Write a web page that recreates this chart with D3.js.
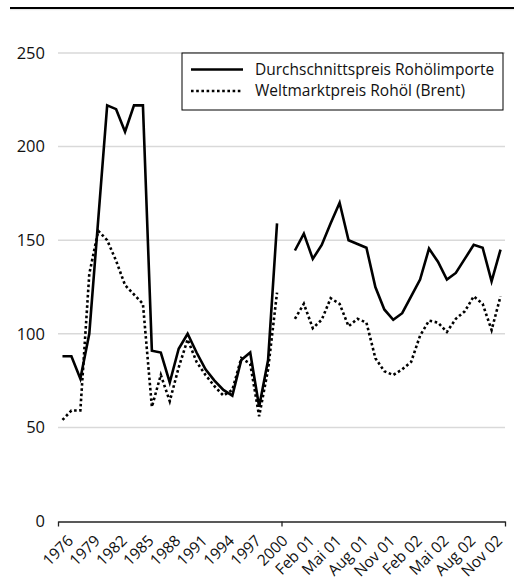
<html>
  <head>
    <script src="https://d3js.org/d3.v7.min.js"></script>
    <style>
      body { margin: 0; background: #fff; }
      text { font-family: "Open Sans", "Noto Sans", sans-serif; fill: #111; }
    </style>
  </head>

  <body>
    <script type="text/javascript">
      // categories: yearly 1976-2000, one empty slot, then monthly Jan 01 - Dec 02
      var years = ["1976","1977","1978","1979","1980","1981","1982","1983","1984","1985",
                   "1986","1987","1988","1989","1990","1991","1992","1993","1994","1995",
                   "1996","1997","1998","1999","2000"];
      var gap = [" "];
      var months = ["Jan 01","Feb 01","Mrz 01","Apr 01","Mai 01","Jun 01","Jul 01","Aug 01",
                    "Sep 01","Okt 01","Nov 01","Dez 01","Jan 02","Feb 02","Mrz 02","Apr 02",
                    "Mai 02","Jun 02","Jul 02","Aug 02","Sep 02","Okt 02","Nov 02","Dez 02"];
      var cats = years.concat(gap, months);

      // Durchschnittspreis Rohölimporte
      var importYears = [88,88,76,100,161,222,220,208,222,222,91,90,74,92,100,90,81,75,70,67,86,90,61,86,159];
      var importMonths = [144.5,153.5,140,147.5,159,170,150,148,146,125,113,107.5,111,120,129,145.5,138.5,129,132.5,140,147.5,146,128,145];
      // Weltmarktpreis Rohöl (Brent)
      var brentYears = [54,59,59,132,155,150,139,126,121,116,61,78,64,82,97,85,78,72,67,70,87,84,56,81,122];
      var brentMonths = [108,116,103,107.5,119,116,104,108,106,87,80,78,81,85,99,107,106,101,108,112,120,116,102,120];

      var yTicks = [0,50,100,150,200,250];
      var labelCats = cats.filter((d,i) => i % 3 == 0);
      var legendNames = ["Durchschnittspreis Rohölimporte","Weltmarktpreis Rohöl (Brent)"];

      var w = 514, h = 588;
      var mLeft = 58, mRight = 505, mTop = 53, mBottom = 521;

      var x = d3.scaleBand().domain(cats).range([mLeft,mRight]).padding(0);
      var xEdge = d3.scaleLinear().domain([0,cats.length]).range([mLeft,mRight]);
      var y = d3.scaleLinear().domain([0,250]).range([mBottom,mTop]);

      var svg = d3.select("body").append("svg")
        .attr("width",w)
        .attr("height",h);

      // top rule
      svg.append("line").attr("x1",10).attr("x2",514).attr("y1",8).attr("y2",8)
        .attr("stroke","#000").attr("stroke-width",2);
      svg.append("line").attr("x1",10).attr("x2",514).attr("y1",9.7).attr("y2",9.7)
        .attr("stroke","#e2e2e2").attr("stroke-width",1);

      // gridlines
      svg.append("g").selectAll("line").data(yTicks.filter(d => d > 0)).enter().append("line")
        .attr("x1",mLeft).attr("x2",mRight)
        .attr("y1",d => y(d)).attr("y2",d => y(d))
        .attr("stroke","#d9d9d9").attr("stroke-width",1.5);

      // y axis labels
      var yAxis = d3.axisLeft(y).tickValues(yTicks).tickSize(0).tickPadding(13);
      var gy = svg.append("g").attr("transform","translate(" + mLeft + ",0)").call(yAxis);
      gy.select(".domain").remove();
      gy.selectAll("text").style("font-size","16.5px").attr("fill","#1a1a1a")
        .style("font-family","'Open Sans', sans-serif");

      // x axis line with ticks at block boundaries
      var xAxisLine = d3.axisBottom(xEdge).tickValues([0,years.length,cats.length])
        .tickFormat("").tickSize(5).tickSizeOuter(0);
      var gx = svg.append("g").attr("transform","translate(0," + (mBottom + 0.5) + ")").call(xAxisLine);
      gx.selectAll("path,line").attr("stroke","#222").attr("stroke-width",1.3);

      // x labels
      var xAxis = d3.axisBottom(x).tickValues(labelCats).tickSize(0);
      var gl = svg.append("g").attr("transform","translate(0," + (mBottom + 11) + ")").call(xAxis);
      gl.select(".domain").remove();
      gl.selectAll("text")
        .style("font-size","15.5px")
        .style("font-family","'Open Sans', sans-serif")
        .attr("fill","#1a1a1a")
        .attr("text-anchor","end")
        .attr("dy","0.7em")
        .attr("transform","translate(2,0) rotate(-45)");

      // series
      var line = d3.line().x(d => x(d[0]) + x.bandwidth()/2).y(d => y(d[1]));
      function pairs(c, v) { return c.map((d,i) => [d, v[i]]); }

      var series = [
        {vals: [importYears, importMonths], dash: null},
        {vals: [brentYears, brentMonths], dash: "2.6 2.6"}
      ];
      series.forEach(function(s){
        [pairs(years, s.vals[0]), pairs(months, s.vals[1])].forEach(function(p){
          svg.append("path").datum(p)
            .attr("fill","none")
            .attr("stroke","#000")
            .attr("stroke-width",2.6)
            .attr("stroke-linejoin","miter")
            .attr("stroke-dasharray",s.dash)
            .attr("d",line);
        });
      });

      // legend
      var lg = svg.append("g").attr("transform","translate(182,53)");
      lg.append("rect").attr("width",321).attr("height",57)
        .attr("fill","#fff").attr("stroke","#000").attr("stroke-width",1);
      lg.selectAll("line").data(legendNames).enter().append("line")
        .attr("x1",9).attr("x2",61)
        .attr("y1",(d,i) => 16.5 + i*21.5).attr("y2",(d,i) => 16.5 + i*21.5)
        .attr("stroke","#000").attr("stroke-width",2.6)
        .attr("stroke-dasharray",(d,i) => i == 1 ? "2.6 2.6" : null);
      lg.selectAll("text").data(legendNames).enter().append("text")
        .attr("x",73)
        .attr("y",(d,i) => 21.5 + i*21.5)
        .style("font-size","15.5px")
        .text(d => d);
    </script>
  </body>
</html>
